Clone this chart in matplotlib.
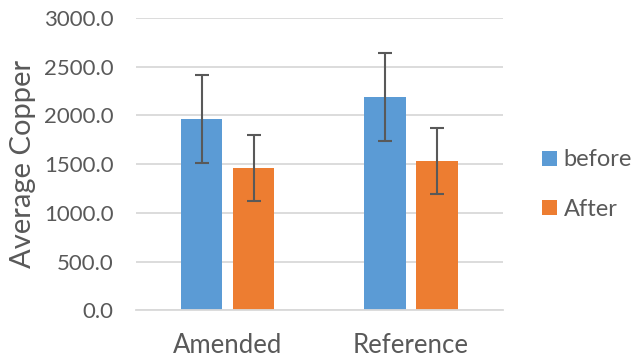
"""
Average copper before/after, amended vs reference.
"""

from matplotlib import pyplot as plt
import numpy as np

categories = ["Amended", "Reference"]
series = ["before", "After"]
before = [1963, 2192]
after = [1460, 1535]
before_err = [452, 450]
after_err = [340, 338]
yticks = [0, 500, 1000, 1500, 2000, 2500, 3000]

blue = "#5B9BD5"
orange = "#ED7D31"
text_col = "#595959"
grid_col = "#D9D9D9"

plt.rcParams["font.family"] = ["Lato", "DejaVu Sans"]

fig = plt.figure(figsize=(6.39, 3.63), dpi=100)
ax = fig.add_axes([0.2128, 0.1452, 0.574, 0.8052])

x = np.arange(len(categories))
w = 0.225
off = 0.142
err_kw = dict(ecolor="#595959", elinewidth=1.5, capsize=5, capthick=1.5)
ax.bar(x - off, before, w, yerr=before_err, color=blue, label=series[0], error_kw=err_kw, zorder=2)
ax.bar(x + off, after, w, yerr=after_err, color=orange, label=series[1], error_kw=err_kw, zorder=2)

ax.set_xlim(-0.5, 1.5)
ax.set_ylim(0, 3000)
ax.set_yticks(yticks)
ax.set_yticklabels([f"{v:.1f}" for v in yticks], fontsize=16, color=text_col)
ax.set_xticks(x)
ax.set_xticklabels(categories, fontsize=18.5, color=text_col)
ax.tick_params(axis="y", length=0, pad=16)
ax.tick_params(axis="x", length=0, pad=16)
ax.yaxis.grid(True, color=grid_col, linewidth=1.3, zorder=0)
ax.set_axisbelow(True)
for s in ["top", "right", "left"]:
    ax.spines[s].set_visible(False)
ax.spines["bottom"].set_color(grid_col)
ax.spines["bottom"].set_linewidth(1.3)

ax.set_ylabel("Average Copper", fontsize=21, color=text_col, labelpad=6)

leg = ax.legend(loc="center left", bbox_to_anchor=(1.05, 0.43), frameon=False,
                fontsize=17, handlelength=0.6, handleheight=0.6, handletextpad=0.3,
                labelspacing=1.2, labelcolor=text_col)

fig.savefig("out.png", dpi=100)
